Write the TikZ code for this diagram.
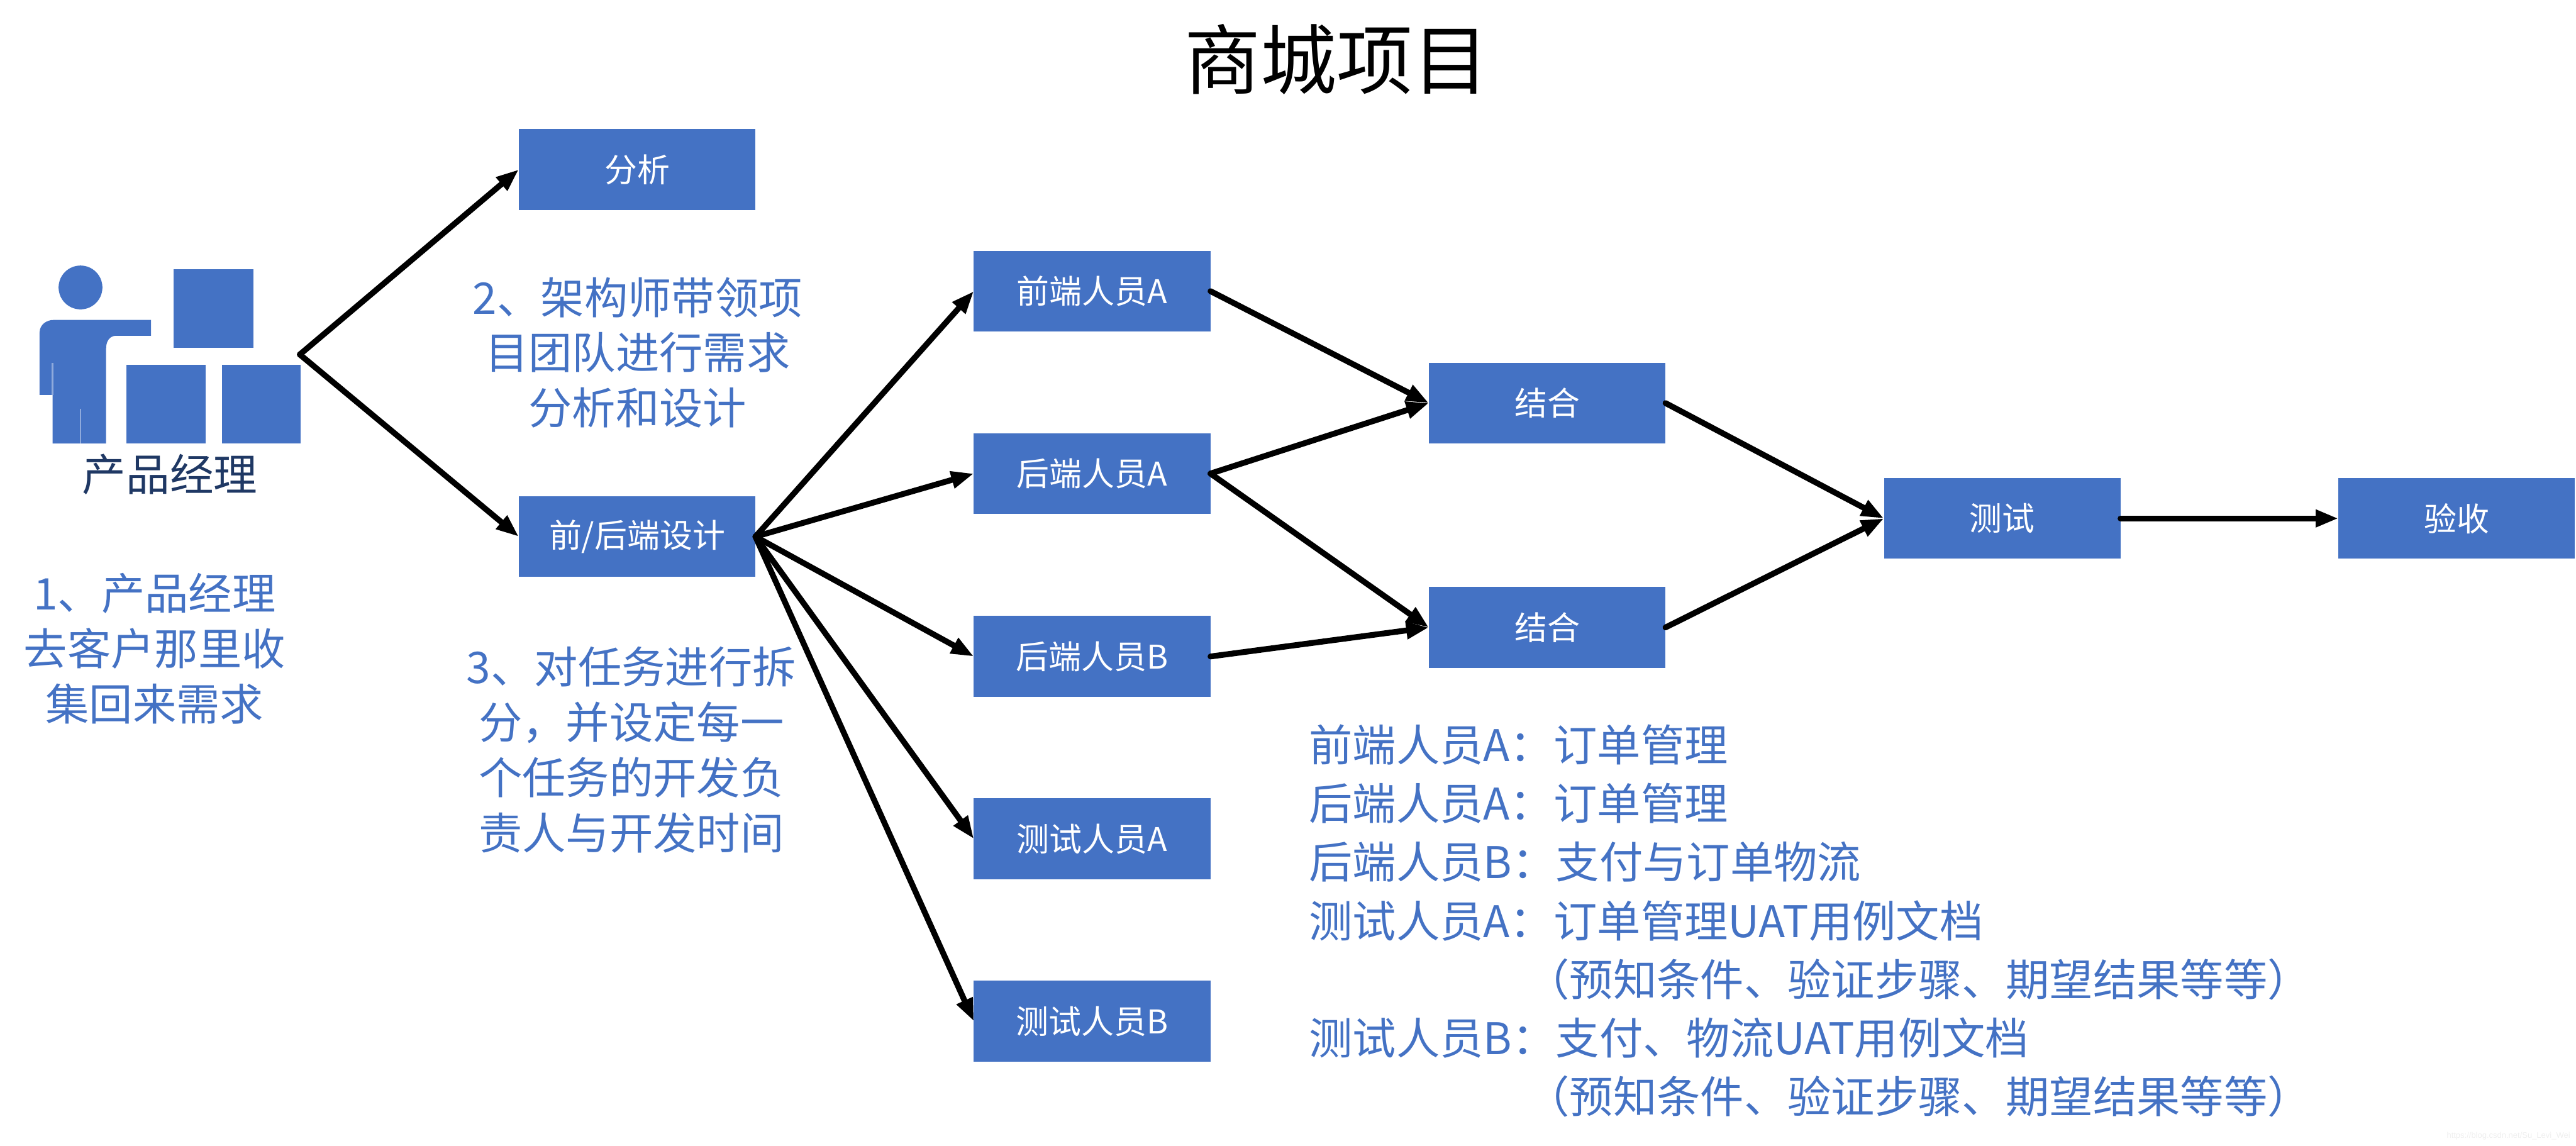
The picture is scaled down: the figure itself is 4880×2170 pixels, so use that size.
\documentclass[tikz,border=0pt]{standalone}
\usepackage{fontspec}
\setmainfont{Noto Sans CJK SC}
\newfontfamily\wmfont{Liberation Sans}
\usetikzlibrary{arrows.meta}
\definecolor{pptblue}{HTML}{4472C4}
\definecolor{pptnavy}{HTML}{1F3864}
\definecolor{pptedge}{HTML}{8FAADC}
\definecolor{wmgrey}{HTML}{EFEFEF}
\tikzset{
  taskbox/.style={fill=pptblue,text=white,minimum width=4.48cm,minimum height=1.53cm,inner sep=0pt,outer sep=0pt,font=\fontsize{17.6}{20}\selectfont},
  link/.style={draw=black,line width=1.1mm,line cap=round,-{Triangle[length=4.3mm,width=3.1mm]}},
  note/.style={text=pptblue,align=center,inner sep=0pt,font=\fontsize{23.5}{29.8}\selectfont},
  listline/.style={text=pptblue,anchor=west,inner sep=0pt,font=\fontsize{23.5}{28}\selectfont},
  pale/.style={draw=pptedge,line width=0.3mm}
}
\begin{document}
\begin{tikzpicture}[x=0.01cm,y=-0.01cm]
\useasboundingbox (0,0) rectangle (4880,2170);
% title
\node (title) at (2532,112) [inner sep=0pt,font=\fontsize{41}{46}\selectfont] {商城项目};
% product manager figure
\fill[pptblue] (152.5,544.5) ellipse [x radius=41.5,y radius=41.5];
\fill[pptblue] (75,748) -- (75,630) .. controls (75,615) and (88,606) .. (102,606) -- (286,606) -- (286,636) -- (220,636) .. controls (208,636) and (201,646) .. (201,660) -- (201,840) -- (99.5,840) -- (99.5,748) -- cycle;
\draw[pale] (99.5,688) -- (99.5,748);
\draw[pale] (152.5,774) -- (152.5,840);
\fill[pptblue] (329,510) rectangle (480,659);
\fill[pptblue] (239,691) rectangle (389,840);
\fill[pptblue] (420,691) rectangle (570,840);
\coordinate (fig) at (568,671.5);
\node (pm) at (322,899) [text=pptnavy,inner sep=0pt,font=\fontsize{23.6}{28}\selectfont] {产品经理};
% notes
\node[note] (n1) at (293,1228) {1、产品经理\\去客户那里收\\集回来需求};
\node[note] (n2) at (1208,668) {2、架构师带领项\\目团队进行需求\\分析和设计};
\node[note] (n3) at (1196,1420) {3、对任务进行拆\\分，并设定每一\\个任务的开发负\\责人与开发时间};
% boxes
\node[taskbox] (fx) at (1207,321) {分析};
\node[taskbox] (sj) at (1207,1016.5) {前/后端设计};
\node[taskbox] (qa) at (2069,551.5) {前端人员A};
\node[taskbox] (ha) at (2069,897) {后端人员A};
\node[taskbox] (hb) at (2069,1243.5) {后端人员B};
\node[taskbox] (ca) at (2069,1589) {测试人员A};
\node[taskbox] (cb) at (2069,1934.5) {测试人员B};
\node[taskbox] (j1) at (2931,763.5) {结合};
\node[taskbox] (j2) at (2931,1188.5) {结合};
\node[taskbox] (cs) at (3793,982) {测试};
\node[taskbox] (ys) at (4654,982) {验收};
% connectors
\draw[link] (fig) -- (fx.west);
\draw[link] (fig) -- (sj.west);
\draw[link] (sj.east) -- (qa.west);
\draw[link] (sj.east) -- (ha.west);
\draw[link] (sj.east) -- (hb.west);
\draw[link] (sj.east) -- (ca.west);
\draw[link] (sj.east) -- (cb.west);
\draw[link] (qa.east) -- (j1.west);
\draw[link] (ha.east) -- (j1.west);
\draw[link] (ha.east) -- (j2.west);
\draw[link] (hb.east) -- (j2.west);
\draw[link] (j1.east) -- (cs.west);
\draw[link] (j2.east) -- (cs.west);
\draw[link] (cs.east) -- (ys.west);
% task list
\node[listline] (l1) at (2479,1411) {前端人员A：订单管理};
\node[listline] (l2) at (2479,1522) {后端人员A：订单管理};
\node[listline] (l3) at (2479,1633) {后端人员B：支付与订单物流};
\node[listline] (l4) at (2479,1744) {测试人员A：订单管理UAT用例文档};
\node[listline] (l5) at (2890,1855) {（预知条件、验证步骤、期望结果等等）};
\node[listline] (l6) at (2479,1966) {测试人员B：支付、物流UAT用例文档};
\node[listline] (l7) at (2890,2077) {（预知条件、验证步骤、期望结果等等）};
% watermark
\node (wm) at (4752,2152) [text=wmgrey,inner sep=0pt,font=\wmfont\fontsize{4.4}{5}\selectfont] {https://blog.csdn.net/Su\_Levi\_Wei};
\end{tikzpicture}
\end{document}
